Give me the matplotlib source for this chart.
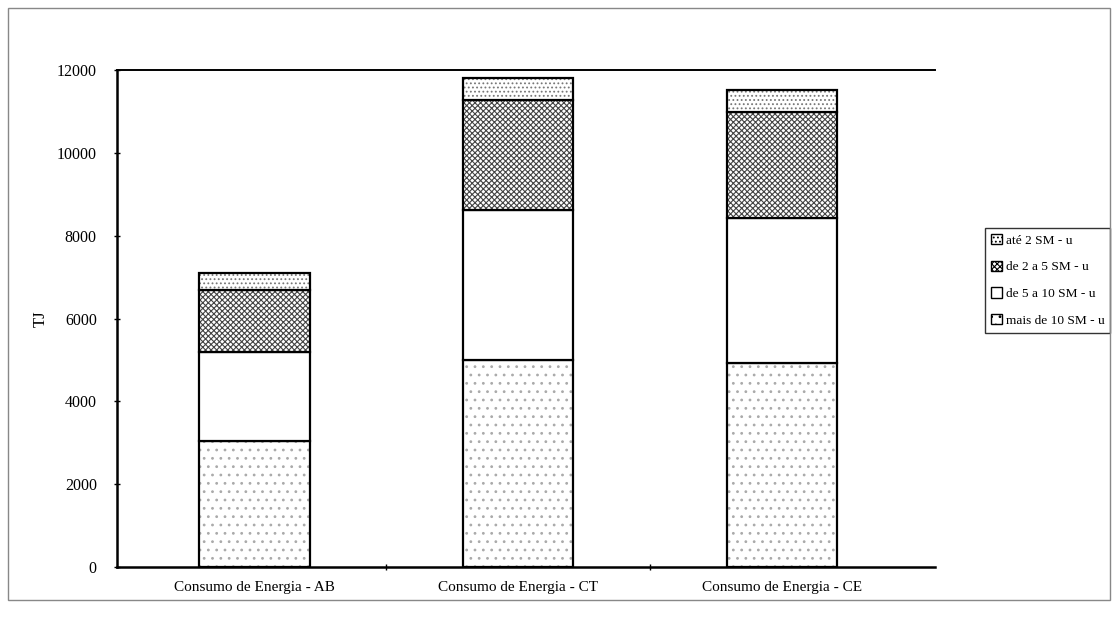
import matplotlib
matplotlib.use("Agg")
import matplotlib.pyplot as plt
from matplotlib.patches import Rectangle
import numpy as np

plt.rcParams['font.family'] = ['Liberation Serif', 'DejaVu Serif']
plt.rcParams['hatch.linewidth'] = 0.8

# consumo por faixa de renda (TJ), de baixo para cima na pilha
categorias = ["Consumo de Energia - AB", "Consumo de Energia - CT", "Consumo de Energia - CE"]
mais_10 = [3050, 5000, 4920]
de_5_a_10 = [2130, 3620, 3500]
de_2_a_5 = [1520, 2660, 2560]
ate_2 = [400, 520, 540]

series = [
    ("mais de 10 SM - u", mais_10, "..", "#aaaaaa"),
    ("de 5 a 10 SM - u", de_5_a_10, "", "black"),
    ("de 2 a 5 SM - u", de_2_a_5, "xxxxxx", "#444444"),
    ("até 2 SM - u", ate_2, "....", "#777777"),
]

fig = plt.figure(figsize=(11.17, 6.29), dpi=100)
ax = fig.add_axes([117 / 1117, 1 - 567 / 629, (935 - 117) / 1117, (567 - 70) / 629])

x = np.arange(len(categorias))
base = np.zeros(len(categorias))
handles = []
for nome, vals, hatch, hcol in series:
    bars = ax.bar(x, vals, width=0.42, bottom=base, color="white",
                  edgecolor=hcol, hatch=hatch, linewidth=0, label=nome)
    # contorno preto por cima da hachura
    ax.bar(x, vals, width=0.42, bottom=base, fill=False,
           edgecolor="black", linewidth=1.6)
    base += np.array(vals)
    handles.append(bars)

ax.set_xlim(-0.52, 2.58)
ax.set_ylim(0, 12000)
ax.set_yticks(np.arange(0, 12001, 2000))
ax.set_xticks(x)
ax.set_xticklabels(categorias, fontsize=11)
ax.set_xticks([0.5, 1.5], minor=True)
ax.tick_params(axis='x', which='major', length=0, pad=10)
ax.tick_params(axis='x', which='minor', length=4, direction='inout', width=1)
ax.tick_params(axis='y', length=5, direction='inout', width=1, labelsize=11.5, pad=12)

ax.spines['left'].set_linewidth(1.8)
ax.spines['bottom'].set_linewidth(1.8)
ax.spines['top'].set_linewidth(1.4)
ax.spines['right'].set_visible(False)

ax.set_ylabel("TJ", fontsize=12, labelpad=6)

leg = ax.legend(handles[::-1], [s[0] for s in series][::-1],
                loc='upper left', bbox_to_anchor=(985 / 1117, 1 - 228 / 629),
                bbox_transform=fig.transFigure, frameon=True, fancybox=False,
                edgecolor="black", fontsize=9.6, handlelength=0.8, handleheight=0.8,
                handletextpad=0.3, labelspacing=1.05, borderpad=0.45, borderaxespad=0)
leg.get_frame().set_linewidth(1.0)
for h in leg.legend_handles:
    h.set_edgecolor("black")
    h.set_linewidth(1.0)

# moldura externa do gráfico
fig.patches.append(Rectangle((8 / 1117, 1 - 600 / 629), (1110 - 8) / 1117, (600 - 8) / 629,
                             transform=fig.transFigure, fill=False,
                             edgecolor="#888888", linewidth=1.0))

fig.savefig("out.png", dpi=100)
